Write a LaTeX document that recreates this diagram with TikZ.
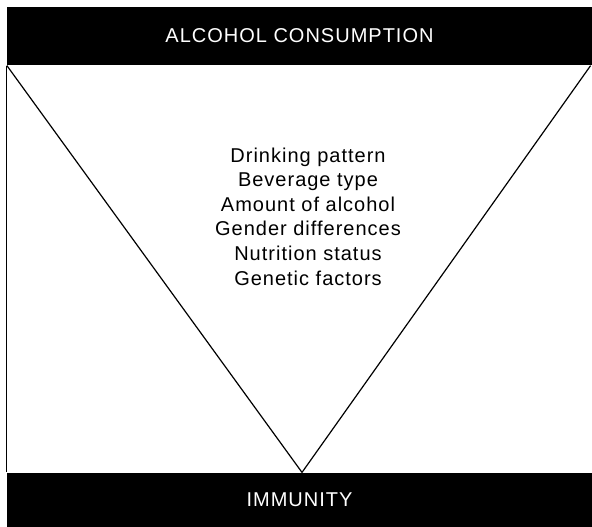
\documentclass[tikz,border=0pt]{standalone}
\usepackage{fontspec}
\setmainfont{Liberation Sans}[LetterSpace=5]
\usetikzlibrary{positioning, calc}

\begin{document}
\begin{tikzpicture}[x=1pt, y=-1pt, line width=1.2pt,
    bar/.style={fill=black, text=white, inner sep=0pt, minimum width=585pt,
        font=\fontsize{20}{24.6}\selectfont},
    factors/.style={align=center, font=\fontsize{20}{24.6}\selectfont}]

    \useasboundingbox (0,0) rectangle (592,527);

    % --- Top and bottom bars ---
    \node[bar, minimum height=58pt] (consumption) at (299.5,36) {ALCOHOL CONSUMPTION};
    \node[bar, minimum height=54pt] (immunity) at (299.5,500) {IMMUNITY};

    % --- Factors in the middle ---
    \node[factors] (factors) at (308,216.5) {Drinking pattern\\ Beverage type\\ Amount of alcohol\\
        Gender differences\\ Nutrition status\\ Genetic factors};

    % --- Triangle corners ---
    \coordinate (apex) at ($(immunity.north)+(2.5,0)$);
    \coordinate (topright) at ($(consumption.south east)+(-2,0)$);

    % --- Left border ---
    \draw[line width=1pt] ($(consumption.south west)+(0.5,0)$) -- ($(immunity.north west)+(0.5,0)$);

    % --- Triangle ---
    \draw ($(consumption.south west)+(0.5,0)$) -- (apex) -- (topright);

\end{tikzpicture}
\end{document}
